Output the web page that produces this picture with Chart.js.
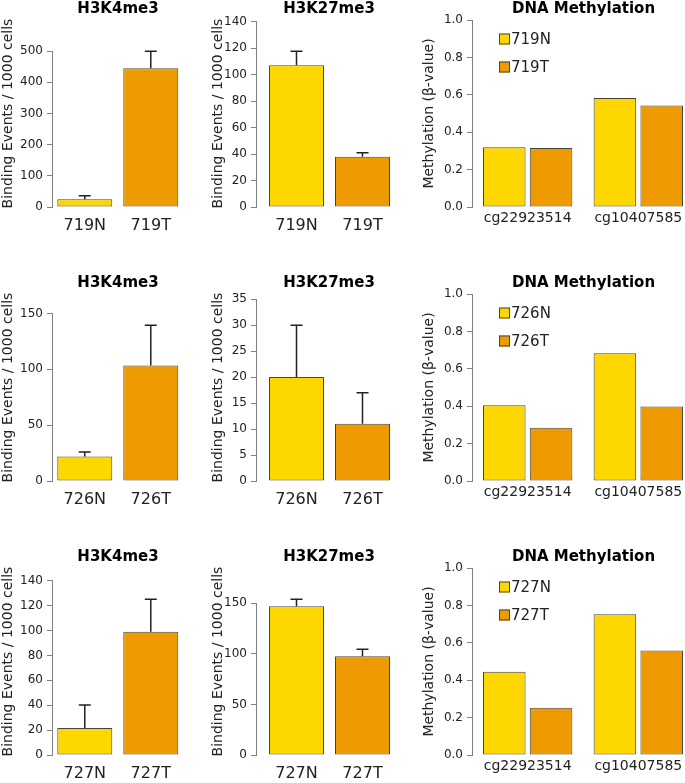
<!DOCTYPE html>
<html>
<head>
<meta charset="utf-8">
<script src="https://cdn.jsdelivr.net/npm/chart.js@4.4.1/dist/chart.umd.min.js"></script>
<style>
  html, body { margin: 0; padding: 0; background: #fff; width: 685px; height: 783px; overflow: hidden; }
  canvas { position: absolute; }
</style>
</head>
<body>
<script>
// ---- data, one row per patient ----
const patients = ['719', '726', '727'];
const barColors = ['#FFD700', '#EE9A00'];

const k4Means = [[25, 445], [22, 103.5], [21.6, 99]];
const k4Sds   = [[11, 55], [4, 36], [18.6, 26.2]];
const k4Ticks = [[0, 100, 200, 300, 400, 500], [0, 50, 100, 150], [0, 20, 40, 60, 80, 100, 120, 140]];

const k27Means = [[107, 38], [20, 11], [147, 97.5]];
const k27Sds   = [[10.7, 3], [10, 6], [7, 7]];
const k27Ticks = [[0, 20, 40, 60, 80, 100, 120, 140], [0, 5, 10, 15, 20, 25, 30, 35], [0, 50, 100, 150]];

const cpgSites = ['cg22923514', 'cg10407585'];
const methN = [[0.319, 0.583], [0.405, 0.683], [0.445, 0.753]];
const methT = [[0.316, 0.543], [0.285, 0.398], [0.253, 0.559]];
const methTicks = [0, 0.2, 0.4, 0.6, 0.8, 1.0];

// ---- layout ----
const rowTops = [0, 274, 548];
const cols = [
  {left: 0,   width: 190, axisW: 53, padRight: 7, xMin: 0.122,  xMax: 2.486},
  {left: 210, width: 195, axisW: 47, padRight: 4, xMin: -0.018, xMax: 2.6},
  {left: 421, width: 280, axisW: 52, padRight: 7, xMin: 0.265,  xMax: 5.459}
];

Chart.defaults.font.family = "'DejaVu Sans', sans-serif";
Chart.defaults.color = '#222';

// R style y axis line: only from 0 to the last tick
const rAxis = {
  id: 'rAxis',
  afterDraw(chart) {
    const {ctx, chartArea, scales: {y}} = chart;
    const last = y.ticks[y.ticks.length - 1].value;
    const x = chartArea.left - 0.5;
    ctx.save();
    ctx.strokeStyle = '#808080';
    ctx.lineWidth = 1;
    ctx.beginPath();
    ctx.moveTo(x, y.getPixelForValue(0));
    ctx.lineTo(x, y.getPixelForValue(last));
    ctx.stroke();
    ctx.restore();
  }
};

const errorBars = {
  id: 'errorBars',
  afterDatasetsDraw(chart) {
    const ds = chart.data.datasets[0];
    const {ctx, scales: {y}} = chart;
    ctx.save();
    ctx.strokeStyle = '#222';
    ctx.lineWidth = 1.5;
    chart.getDatasetMeta(0).data.forEach((bar, i) => {
      const top = y.getPixelForValue(ds.data[i].y + ds.sd[i]);
      ctx.beginPath();
      ctx.moveTo(bar.x, bar.y);
      ctx.lineTo(bar.x, top);
      ctx.moveTo(bar.x - 6, top);
      ctx.lineTo(bar.x + 6, top);
      ctx.stroke();
    });
    ctx.restore();
  }
};

const boxLegend = {
  id: 'boxLegend',
  afterDraw(chart) {
    const {ctx, chartArea} = chart;
    ctx.save();
    ctx.font = "15px 'DejaVu Sans', sans-serif";
    ctx.textBaseline = 'middle';
    chart.data.datasets.forEach((ds, i) => {
      const x = chartArea.left + 26, y = chartArea.top + 19 + i * 28;
      ctx.fillStyle = ds.backgroundColor;
      ctx.fillRect(x, y - 5.5, 11, 11);
      ctx.strokeStyle = '#444';
      ctx.lineWidth = 1;
      ctx.strokeRect(x + 0.5, y - 5, 10, 10);
      ctx.fillStyle = '#222';
      ctx.fillText(ds.label, x + 12, y + 1);
    });
    ctx.restore();
  }
};

function xScale(geo, pos, labels, size, pad) {
  return {
    type: 'linear', min: geo.xMin, max: geo.xMax, offset: false,
    afterBuildTicks: ax => { ax.ticks = pos.map(v => ({value: v})); },
    afterFit: ax => { ax.height = 28; },
    grid: {display: false, drawTicks: false},
    border: {display: false},
    ticks: {autoSkip: false, maxRotation: 0, padding: pad, color: '#222', font: {size: size},
            callback: (v, i) => labels[i]}
  };
}

function yScale(geo, max, ticks, title, fmt) {
  return {
    type: 'linear', min: 0, max: max,
    afterBuildTicks: ax => { ax.ticks = ticks.map(v => ({value: v})); },
    afterFit: ax => { ax.width = geo.axisW; },
    grid: {drawOnChartArea: false, drawTicks: true, tickLength: 6, color: '#808080'},
    border: {display: false},
    ticks: {autoSkip: false, padding: 4, color: '#222', font: {size: 12}, callback: fmt},
    title: {display: true, text: title, color: '#222', font: {size: 14}, padding: 0}
  };
}

function baseOptions(geo, title) {
  return {
    responsive: false,
    animation: false,
    layout: {padding: {left: 0, right: geo.padRight, top: 0, bottom: 0}},
    plugins: {
      legend: {display: false},
      tooltip: {enabled: false},
      title: {display: true, text: title, color: '#000', fullSize: false,
              font: {size: 15, weight: 'bold', lineHeight: 1}, padding: {top: 2, bottom: 3}}
    }
  };
}

function makeCanvas(row, col) {
  const c = document.createElement('canvas');
  c.width = cols[col].width;
  c.height = 235;
  c.style.left = cols[col].left + 'px';
  c.style.top = rowTops[row] + 'px';
  document.body.appendChild(c);
  return c;
}

function histoneChart(row, col, title, means, sds, ticks) {
  const geo = cols[col];
  const labels = [patients[row] + 'N', patients[row] + 'T'];
  const mids = labels.map((_, i) => 0.7 + i * 1.2);   // barplot width 1, space 0.2
  const top = Math.max(...means.map((m, i) => m + sds[i])) * 1.2;
  const opts = baseOptions(geo, title);
  opts.scales = {
    x: xScale(geo, mids, labels, 16, 9),
    y: yScale(geo, top, ticks, 'Binding Events / 1000 cells', v => String(v))
  };
  new Chart(makeCanvas(row, col), {
    type: 'bar',
    data: {datasets: [{
      data: mids.map((x, i) => ({x: x, y: means[i]})),
      sd: sds,
      backgroundColor: barColors,
      borderColor: '#444', borderWidth: 1, borderSkipped: false,
      grouped: false, categoryPercentage: 1, barPercentage: 1 / 1.2
    }]},
    options: opts,
    plugins: [rAxis, errorBars]
  });
}

function methChart(row) {
  const geo = cols[2];
  // beside barplot, space c(0.1, 0.5)
  const mid = (g, j) => 1.0 + g * 2.6 + j * 1.1;
  const siteMids = cpgSites.map((_, g) => (mid(g, 0) + mid(g, 1)) / 2);
  const opts = baseOptions(geo, 'DNA Methylation');
  opts.scales = {
    x: xScale(geo, siteMids, cpgSites, 14, 3),
    y: yScale(geo, 1, methTicks, 'Methylation (β-value)', v => v.toFixed(1))
  };
  const common = {borderColor: '#444', borderWidth: 1, borderSkipped: false,
                  grouped: false, categoryPercentage: 1, barPercentage: 1 / 1.1};
  new Chart(makeCanvas(row, 2), {
    type: 'bar',
    data: {datasets: [
      Object.assign({label: patients[row] + 'N', backgroundColor: barColors[0],
                     data: methN[row].map((y, g) => ({x: mid(g, 0), y: y}))}, common),
      Object.assign({label: patients[row] + 'T', backgroundColor: barColors[1],
                     data: methT[row].map((y, g) => ({x: mid(g, 1), y: y}))}, common)
    ]},
    options: opts,
    plugins: [rAxis, boxLegend]
  });
}

patients.forEach((p, row) => {
  histoneChart(row, 0, 'H3K4me3', k4Means[row], k4Sds[row], k4Ticks[row]);
  histoneChart(row, 1, 'H3K27me3', k27Means[row], k27Sds[row], k27Ticks[row]);
  methChart(row);
});
</script>
</body>
</html>
